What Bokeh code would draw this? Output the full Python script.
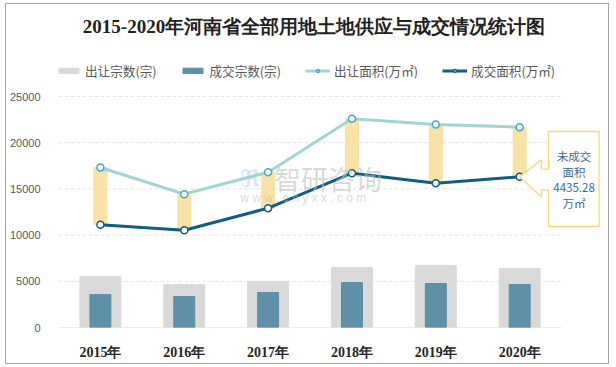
from bokeh.plotting import figure
from bokeh.models import Range1d, FixedTicker, Legend, LegendItem, Label, NumeralTickFormatter
from bokeh.core.properties import value
from bokeh.embed import file_html
from bokeh.resources import INLINE

# ---- data ----
years = ["2015年", "2016年", "2017年", "2018年", "2019年", "2020年"]
transfer_count = [5520, 4650, 4980, 6490, 6710, 6385]      # 出让宗数(宗)
deal_count = [3570, 3350, 3790, 4870, 4760, 4650]          # 成交宗数(宗)
transfer_area = [17316, 14430, 16810, 22587, 21970, 21680]  # 出让面积(万㎡)
deal_area = [11115, 10530, 12915, 16700, 15620, 16310]      # 成交面积(万㎡)
y_ticks = [0, 5000, 10000, 15000, 20000, 25000]
title_text = "2015-2020年河南省全部用地土地供应与成交情况统计图"
legend_labels = ["出让宗数(宗)", "成交宗数(宗)", "出让面积(万㎡)", "成交面积(万㎡)"]
callout_lines = ["未成交", "面积", "4435.28", "万㎡"]

idx = list(range(len(years)))

# pixel -> data conversion helpers
XPX = 1 / 84.0
YPX = 25000 / 231.0
FW, FH = 604, 361
BL, BB = 51, 38

p = figure(width=FW, height=FH, output_backend="svg", toolbar_location=None,
           x_range=Range1d(-0.5, -0.5 + (FW - BL) * XPX),
           y_range=Range1d(0, (FH - BB) * YPX),
           min_border_left=BL, min_border_right=0, min_border_top=0, min_border_bottom=BB)
p.outline_line_color = None
p.xgrid.visible = False
p.ygrid.visible = False
p.background_fill_color = "white"
p.border_fill_color = "white"
p.styles = {"border": "1px solid #A6A6A6", "box-sizing": "border-box",
            "margin-left": "5px", "margin-top": "3px"}

# axes
p.xaxis.ticker = FixedTicker(ticks=idx)
p.xaxis.major_label_overrides = {i: years[i] for i in idx}
p.xaxis.axis_line_color = None
p.xaxis.major_tick_line_color = None
p.xaxis.minor_tick_line_color = None
p.xaxis.major_label_standoff = 11
p.xaxis.major_label_text_font = "Liberation Serif"
p.xaxis.major_label_text_font_style = "bold"
p.xaxis.major_label_text_font_size = "14px"
p.xaxis.major_label_text_color = "#262626"

p.yaxis.ticker = FixedTicker(ticks=y_ticks)
p.yaxis.formatter = NumeralTickFormatter(format="0")
p.yaxis.axis_line_color = None
p.yaxis.major_tick_line_color = None
p.yaxis.minor_tick_line_color = None
p.yaxis.major_label_standoff = 12
p.yaxis.major_label_text_font = "Liberation Sans"
p.yaxis.major_label_text_font_size = "11px"
p.yaxis.major_label_text_color = "#595959"

# grid lines (only over the category span)
p.segment(x0=-0.5, x1=len(years) - 0.5, y0=y_ticks[1:], y1=y_ticks[1:],
          line_color="#E6E6E6", line_width=1, line_dash="4 2")
p.segment(x0=-0.5, x1=len(years) - 0.5, y0=0, y1=0, line_color="#D9D9D9", line_width=1.2)

# bars
r_tc = p.vbar(x=idx, top=transfer_count, width=0.488, color="#D9D9D9")
r_dc = p.vbar(x=idx, top=deal_count, width=0.25, color="#5E90A7")

# gap bars
p.vbar(x=idx, bottom=deal_area, top=transfer_area, width=0.155, color="#F8E2A6")

# watermark
p.add_layout(Label(x=-0.5 + (272 - 56) * XPX, y=(326 - 177) * YPX, text="智研咨询",
                   text_font="Noto Sans CJK SC", text_font_size="27px", text_color="#BFBFBF",
                   text_alpha=0.6, text_baseline="middle"))
p.add_layout(Label(x=-0.5 + (238 - 56) * XPX, y=(326 - 196) * YPX, text="w w w . c h y x x . c o m",
                   text_font="Liberation Sans", text_font_size="12px", text_color="#BFBFBF",
                   text_alpha=0.6, text_baseline="middle"))
p.add_layout(Label(x=-0.5 + (238 - 56) * XPX, y=(326 - 177) * YPX, text="ℜ",
                   text_font="DejaVu Sans", text_font_size="24px", text_font_style="bold",
                   text_color="#A9C4E2", text_alpha=0.45, text_baseline="middle"))

# lines
r_tl = p.line(idx, transfer_area, line_color="#9ED6D4", line_width=3)
r_ts = p.scatter(idx, transfer_area, marker="circle", size=7, fill_color="white",
                 line_color="#3FA9C9", line_width=1.5)
r_dl = p.line(idx, deal_area, line_color="#0F5F80", line_width=3)
r_ds = p.scatter(idx, deal_area, marker="circle", size=7, fill_color="white",
                 line_color="#0F5F80", line_width=1.5)

# callout box pointing at last deal-area point
tx, ty = idx[-1], deal_area[-1]
bl = tx + 28.8 * XPX
br = tx + 79.5 * XPX
hb = tx + 21.8 * XPX
cx = [tx, hb, hb, bl, bl, br, br, bl, bl, hb, hb, tx]
cy = [ty, ty + 17 * YPX, ty + 7.6 * YPX, ty + 7.6 * YPX, ty + 45.3 * YPX, ty + 45.3 * YPX,
      ty - 49.7 * YPX, ty - 49.7 * YPX, ty - 13 * YPX, ty - 13 * YPX, ty - 20.4 * YPX, ty]
p.patch(cx, cy, fill_color="white", line_color="#F9D67A", line_width=1.3)
text_x = tx + 54.5 * XPX
for k, t in enumerate(callout_lines):
    p.text(x=[text_x], y=[ty + (20.3 - 15.5 * k) * YPX], text=[t],
           text_font=value("Noto Sans CJK SC"), text_font_size="11.5px",
           text_color="#1F6FB0" if k == 2 else "#44698C",
           text_align="center", text_baseline="middle")

# title
p.add_layout(Label(x=-0.5 + (312 - 56) * XPX, y=(326 - 25) * YPX, text=title_text,
                   text_font="Liberation Serif", text_font_style="bold",
                   text_font_size="19px", text_color="#222222",
                   text_align="center", text_baseline="middle"))

# legend
legend = Legend(items=[
    LegendItem(label=legend_labels[0], renderers=[r_tc]),
    LegendItem(label=legend_labels[1], renderers=[r_dc]),
    LegendItem(label=legend_labels[2], renderers=[r_tl, r_ts]),
    LegendItem(label=legend_labels[3], renderers=[r_dl, r_ds]),
], orientation="horizontal", location=(-2, 247))
legend.border_line_color = None
legend.background_fill_alpha = 0
legend.padding = 0
legend.margin = 0
legend.spacing = 24
legend.label_standoff = 4
legend.glyph_width = 25
legend.glyph_height = 7
legend.label_text_font = "Noto Sans CJK SC"
legend.label_text_font_size = "12.6px"
legend.label_text_color = "#595959"
p.add_layout(legend, "center")

open("out.html", "w").write(file_html(p, INLINE))
